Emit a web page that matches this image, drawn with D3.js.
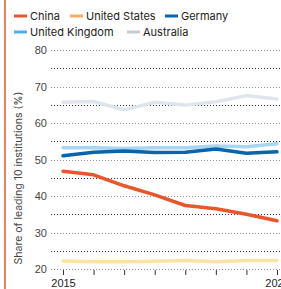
<!DOCTYPE html>
<html>
<head>
<meta charset="utf-8">
<script src="https://cdn.jsdelivr.net/npm/d3@7"></script>
<style>
  body { margin: 0; background: #fff; }
  svg { display: block; font-family: Inter, "Noto Sans", sans-serif; }
</style>
</head>
<body>
<div id="chartBox"></div>
<script>
var years = [2015, 2016, 2017, 2018, 2019, 2020, 2021, 2022];
var seriesNames = ["China", "United States", "Germany", "United Kingdom", "Australia"];
var china = [46.8, 45.8, 42.8, 40.3, 37.4, 36.5, 35.0, 33.2];
var unitedStates = [22.2, 22.0, 22.0, 22.1, 22.3, 22.0, 22.3, 22.3];
var germany = [51.0, 52.0, 52.3, 51.9, 52.0, 52.9, 51.7, 52.1];
var unitedKingdom = [53.2, 53.2, 53.0, 53.2, 53.2, 53.7, 53.5, 54.3];
var australia = [65.7, 65.9, 63.6, 65.7, 64.9, 65.8, 67.5, 66.6];
var yTicks = [20, 30, 40, 50, 60, 70, 80];

var lineColors = ["#e8562c", "#fbe3a6", "#0a64ad", "#a6d6f4", "#dfe5ec"];
var swatchColors = ["#e8562c", "#f9ad62", "#0a64ad", "#4eb1e6", "#c7ccd2"];

var w = 281, h = 289;
var svg = d3.select("#chartBox")
  .append("svg")
  .attr("width", w)
  .attr("height", h);

// orange rule on the left
svg.append("line")
  .attr("x1", 5).attr("x2", 5)
  .attr("y1", 0).attr("y2", h)
  .style("stroke", "#e8562c")
  .style("stroke-width", 1.5);

var x = d3.scaleLinear().domain([2015, 2022]).range([63, 277]);
var y = d3.scaleLinear().domain([20, 80]).range([269, 50]);

// gridlines: labelled every 10, darker dots on the 5s
var grid = svg.append("g");
d3.range(20, 81, 5).forEach(function(v) {
  var major = v % 10 === 0;
  grid.append("line")
    .attr("x1", 51).attr("x2", w)
    .attr("y1", Math.round(y(v)) + 0.5).attr("y2", Math.round(y(v)) + 0.5)
    .style("stroke", major ? "#8a8a8a" : "#333")
    .style("stroke-width", 1)
    .style("stroke-dasharray", "1,2");
});

var yAxis = svg.append("g")
  .attr("transform", "translate(47,0)")
  .call(d3.axisLeft(y).tickValues(yTicks).tickSize(0).tickPadding(0));
yAxis.select(".domain").remove();
yAxis.selectAll("text")
  .style("font-size", "11px")
  .style("fill", "#444");

var xAxis = svg.append("g")
  .attr("transform", "translate(0," + (Math.round(y(20)) + 1) + ")")
  .call(d3.axisBottom(x).tickValues(years).tickSize(5).tickPadding(4)
    .tickFormat(function(d) { return (d === 2015 || d === 2022) ? d : ""; }));
xAxis.select(".domain").remove();
xAxis.selectAll("line").style("stroke", "#333");
xAxis.selectAll("text")
  .style("font-size", "11px")
  .style("fill", "#222");

svg.append("text")
  .attr("transform", "translate(22,178) rotate(-90)")
  .attr("text-anchor", "middle")
  .style("font-size", "10.5px")
  .style("fill", "#444")
  .text("Share of leading 10 institutions (%)");

var allSeries = [china, unitedStates, germany, unitedKingdom, australia];
var line = d3.line()
  .x(function(d, i) { return x(years[i]); })
  .y(function(d) { return y(d); });

// draw order: lighter lines behind
[4, 1, 3, 2, 0].forEach(function(k) {
  svg.append("path")
    .datum(allSeries[k])
    .attr("d", line)
    .style("fill", "none")
    .style("stroke", lineColors[k])
    .style("stroke-width", 3.5)
    .style("stroke-linejoin", "round")
    .style("stroke-linecap", "round");
});

// legend
var legendPos = [[14, 16], [70, 16], [165, 16], [14, 32], [127, 32]];
seriesNames.forEach(function(name, k) {
  var g = svg.append("g")
    .attr("transform", "translate(" + legendPos[k][0] + "," + legendPos[k][1] + ")");
  g.append("line")
    .attr("x1", 0).attr("x2", 13)
    .style("stroke", swatchColors[k])
    .style("stroke-width", 3);
  g.append("text")
    .attr("x", 16)
    .attr("dy", "0.35em")
    .style("font-size", "11px")
    .style("fill", "#222")
    .text(name);
});
</script>
</body>
</html>
